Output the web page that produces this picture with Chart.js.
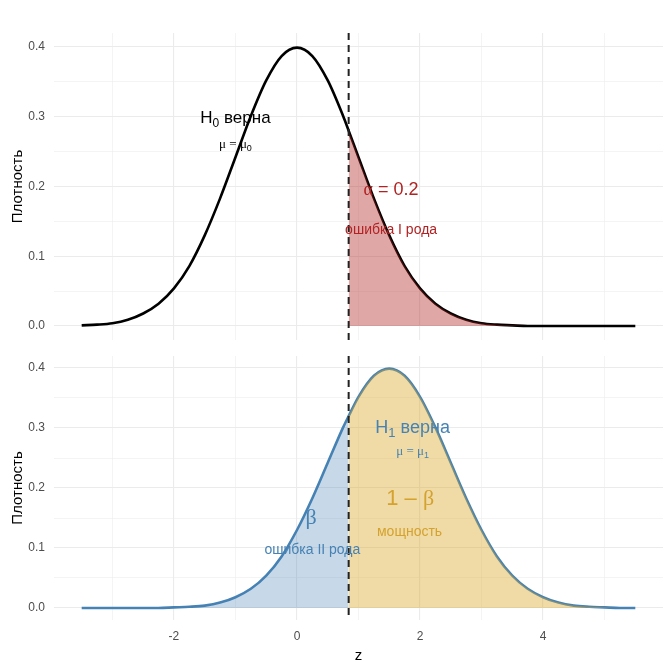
<!DOCTYPE html>
<html>
<head>
<meta charset="utf-8">
<script src="https://cdn.jsdelivr.net/npm/chart.js@4.4.1/dist/chart.umd.min.js"></script>
<style>
  html, body { margin: 0; padding: 0; background: #fff; }
  #wrap { position: relative; width: 672px; height: 671px; }
  .panel { position: absolute; left: 0; width: 672px; }
  #top { top: 0; height: 346px; }
  #bottom { top: 346px; height: 325px; }
</style>
</head>
<body>
<div id="wrap">
  <div class="panel" id="top"><canvas id="chartTop"></canvas></div>
  <div class="panel" id="bottom"><canvas id="chartBottom"></canvas></div>
</div>
<script>
// ---------- Dades llegides del gràfic ----------
const zVals = [-3.5, -3.25, -3, -2.75, -2.5, -2.25, -2, -1.75, -1.5, -1.25, -1, -0.75, -0.5, -0.25,
  0, 0.25, 0.5, 0.75, 0.84, 1, 1.25, 1.5, 1.75, 2, 2.25, 2.5, 2.75, 3, 3.25, 3.5, 3.75,
  4, 4.25, 4.5, 4.75, 5, 5.25, 5.5];
const h0Dens = [0.001, 0.002, 0.004, 0.009, 0.018, 0.032, 0.054, 0.086, 0.130, 0.183, 0.242, 0.301, 0.352, 0.387,
  0.399, 0.387, 0.352, 0.301, 0.280, 0.242, 0.183, 0.130, 0.086, 0.054, 0.032, 0.018, 0.009, 0.004, 0.002, 0.001, 0.0,
  0.0, 0.0, 0.0, 0.0, 0.0, 0.0, 0.0];
const h1Dens = [0.0, 0.0, 0.0, 0.0, 0.0, 0.0, 0.001, 0.002, 0.004, 0.009, 0.018, 0.032, 0.054, 0.086,
  0.130, 0.183, 0.242, 0.301, 0.320, 0.352, 0.387, 0.399, 0.387, 0.352, 0.301, 0.242, 0.183, 0.130, 0.086, 0.054, 0.032,
  0.018, 0.009, 0.004, 0.002, 0.001, 0.0, 0.0];
const zCrit = 0.84;
const xTicks = [-3, -2, -1, 0, 1, 2, 3, 4, 5];
const xLabels = [-2, 0, 2, 4];
const yTicks = [0, 0.05, 0.1, 0.15, 0.2, 0.25, 0.3, 0.35, 0.4];
const yLabels = [0, 0.1, 0.2, 0.3, 0.4];

const pts = dens => zVals.map((z, i) => ({ x: z, y: dens[i] }));

// ---------- Textos ----------
const topNotes = [
  { x: -1.0, y: 0.298, size: 17, color: '#000', parts: [{ t: 'H' }, { t: '0', sub: true }, { t: ' верна' }] },
  { x: -1.0, y: 0.260, size: 13, color: '#000', parts: [{ t: 'μ = μ', serif: true }, { t: '0', sub: true }] },
  { x: 1.53, y: 0.195, size: 18, color: '#b22222', parts: [{ t: 'α', serif: true }, { t: ' = 0.2' }] },
  { x: 1.53, y: 0.137, size: 14, color: '#b22222', parts: [{ t: 'ошибка I рода' }] }
];
const bottomNotes = [
  { x: 1.88, y: 0.300, size: 18, color: '#4682b4', parts: [{ t: 'H' }, { t: '1', sub: true }, { t: ' верна' }] },
  { x: 1.88, y: 0.261, size: 13, color: '#4682b4', parts: [{ t: 'μ = μ', serif: true }, { t: '1', sub: true }] },
  { x: 1.84, y: 0.182, size: 22, color: '#d4a22e', parts: [{ t: '1 – ', }, { t: 'β', serif: true }] },
  { x: 1.83, y: 0.127, size: 14, color: '#d4a22e', parts: [{ t: 'мощность' }] },
  { x: 0.23, y: 0.150, size: 22, color: '#4682b4', parts: [{ t: 'β', serif: true }] },
  { x: 0.25, y: 0.097, size: 14, color: '#4682b4', parts: [{ t: 'ошибка II рода' }] }
];

function fontOf(part, size) {
  const s = part.sub ? Math.round(size * 0.7) : size;
  const fam = part.serif ? '"Liberation Serif", serif' : '"Liberation Sans", Arial, sans-serif';
  return s + 'px ' + fam;
}

// dibuixa textos i línia de tall
const notesPlugin = {
  id: 'notes',
  afterDatasetsDraw(chart, args, opts) {
    const { ctx, chartArea, scales } = chart;
    const xc = scales.x.getPixelForValue(zCrit);
    ctx.save();
    ctx.strokeStyle = '#222';
    ctx.lineWidth = 2;
    ctx.setLineDash([7, 5]);
    ctx.beginPath();
    ctx.moveTo(xc, chartArea.top);
    ctx.lineTo(xc, chartArea.bottom);
    ctx.stroke();
    ctx.setLineDash([]);

    ctx.textBaseline = 'middle';
    ctx.textAlign = 'left';
    (opts.notes || []).forEach(n => {
      let w = 0;
      n.parts.forEach(p => { ctx.font = fontOf(p, n.size); w += ctx.measureText(p.t).width; });
      let px = scales.x.getPixelForValue(n.x) - w / 2;
      const py = scales.y.getPixelForValue(n.y);
      ctx.fillStyle = n.color;
      n.parts.forEach(p => {
        ctx.font = fontOf(p, n.size);
        ctx.fillText(p.t, px, p.sub ? py + n.size * 0.3 : py);
        px += ctx.measureText(p.t).width;
      });
    });
    ctx.restore();
  }
};

function gridWidth(ctx, labels) {
  const v = ctx.tick ? ctx.tick.value : 0;
  return labels.some(l => Math.abs(l - v) < 1e-9) ? 1.1 : 0.55;
}

function makeScales(showX) {
  return {
    x: {
      type: 'linear',
      min: -3.95,
      max: 5.95,
      afterBuildTicks: s => { s.ticks = xTicks.map(v => ({ value: v })); },
      afterFit: s => {
        s.height = showX ? 51 : 0;
        s.paddingLeft = 0; s.paddingRight = 0;
      },
      border: { display: false },
      grid: { color: '#ebebeb', lineWidth: c => gridWidth(c, xLabels), drawTicks: false },
      ticks: {
        display: showX,
        padding: 9,
        color: '#4d4d4d',
        font: { size: 12, family: '"Liberation Sans", Arial, sans-serif' },
        callback: v => xLabels.includes(v) ? String(v) : ''
      },
      title: {
        display: showX,
        text: 'z',
        color: '#000',
        padding: { top: 0, bottom: 6 },
        font: { size: 15, family: '"Liberation Sans", Arial, sans-serif' }
      }
    },
    y: {
      min: -0.02,
      max: 0.42,
      afterBuildTicks: s => { s.ticks = yTicks.map(v => ({ value: v })); },
      afterFit: s => {
        s.width = 54;
        s.paddingTop = 0; s.paddingBottom = 0;
      },
      border: { display: false },
      grid: { color: '#ebebeb', lineWidth: c => gridWidth(c, yLabels), drawTicks: false },
      ticks: {
        padding: 9,
        color: '#4d4d4d',
        font: { size: 12, family: '"Liberation Sans", Arial, sans-serif' },
        callback: v => yLabels.some(l => Math.abs(l - v) < 1e-9) ? v.toFixed(1) : ''
      },
      title: {
        display: true,
        text: 'Плотность',
        color: '#000',
        padding: { top: 9, bottom: 0 },
        font: { size: 15, family: '"Liberation Sans", Arial, sans-serif' }
      }
    }
  };
}

const common = {
  responsive: true,
  maintainAspectRatio: false,
  animation: false,
  events: [],
  elements: { point: { radius: 0 }, line: { cubicInterpolationMode: 'monotone' } },
  plugins: { legend: { display: false }, tooltip: { enabled: false } }
};

// ---------- Panell superior: H0 ----------
new Chart(document.getElementById('chartTop'), {
  type: 'line',
  data: {
    datasets: [
      {
        data: pts(h0Dens).filter(p => p.x >= zCrit),
        borderWidth: 0,
        backgroundColor: 'rgba(178,34,34,0.4)',
        fill: 'origin'
      },
      {
        data: pts(h0Dens),
        borderColor: '#000',
        borderWidth: 2.6,
        fill: false
      }
    ]
  },
  options: {
    ...common,
    layout: { padding: { top: 33, right: 9, bottom: 6, left: 0 } },
    scales: makeScales(false),
    plugins: { ...common.plugins, notes: { notes: topNotes } }
  },
  plugins: [notesPlugin]
});

// ---------- Panell inferior: H1 ----------
new Chart(document.getElementById('chartBottom'), {
  type: 'line',
  data: {
    datasets: [
      {
        data: pts(h1Dens).filter(p => p.x <= zCrit),
        borderWidth: 0,
        backgroundColor: 'rgba(70,130,180,0.3)',
        fill: 'origin'
      },
      {
        data: pts(h1Dens).filter(p => p.x >= zCrit),
        borderWidth: 0,
        backgroundColor: 'rgba(218,165,32,0.4)',
        fill: 'origin'
      },
      {
        data: pts(h1Dens),
        borderColor: '#4682b4',
        borderWidth: 2.6,
        fill: false
      }
    ]
  },
  options: {
    ...common,
    layout: { padding: { top: 10, right: 9, bottom: 0, left: 0 } },
    scales: makeScales(true),
    plugins: { ...common.plugins, notes: { notes: bottomNotes } }
  },
  plugins: [notesPlugin]
});
</script>
</body>
</html>
